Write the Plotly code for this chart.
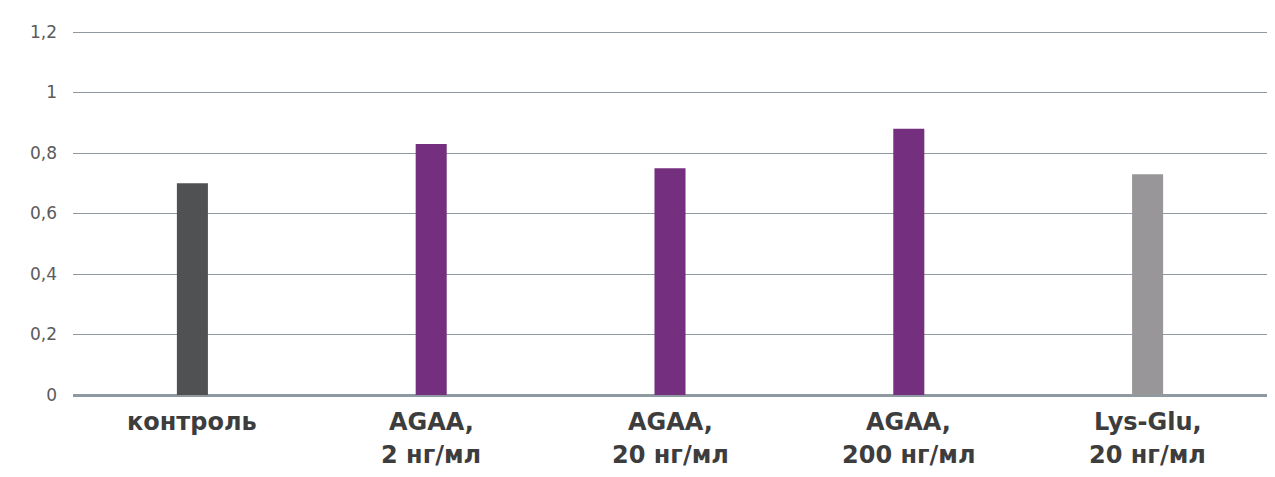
import plotly.graph_objects as go

categories = ["контроль", "AGAA 2", "AGAA 20", "AGAA 200", "Lys-Glu 20"]
label_line1 = ["контроль", "AGAA,", "AGAA,", "AGAA,", "Lys-Glu,"]
label_line2 = ["", "2 нг/мл", "20 нг/мл", "200 нг/мл", "20 нг/мл"]
values = [0.70, 0.83, 0.75, 0.88, 0.73]
colors = ["#505153", "#74307e", "#74307e", "#74307e", "#989699"]
tick_vals = [0, 0.2, 0.4, 0.6, 0.8, 1.0, 1.2]
tick_text = ["0", "0,2", "0,4", "0,6", "0,8", "1", "1,2"]

fig = go.Figure(go.Bar(x=categories, y=values, marker=dict(color=colors, line=dict(width=0)),
                       width=0.13))

lab_font = dict(size=24, color="#3d3d3d", family="DejaVu Sans, sans-serif")
for c, l1, l2 in zip(categories, label_line1, label_line2):
    fig.add_annotation(x=c, y=0, yref="y", text=f"<b>{l1}</b>", showarrow=False,
                       yanchor="middle", yshift=-27, font=lab_font)
    if l2:
        fig.add_annotation(x=c, y=0, yref="y", text=f"<b>{l2}</b>", showarrow=False,
                           yanchor="middle", yshift=-60, font=lab_font)

# page body has an 8px margin, so the figure is sized to fit the window without scrollbars
fig.update_layout(
    width=1259, height=461,
    margin=dict(l=65, r=0, t=21, b=74),
    plot_bgcolor="white", paper_bgcolor="white",
    showlegend=False,
    font=dict(family="DejaVu Sans, sans-serif"),
)
fig.update_yaxes(range=[0, 1.21], tickvals=tick_vals, ticktext=tick_text,
                 showgrid=True, gridcolor="#8f99a1", gridwidth=1.2,
                 zeroline=True, zerolinecolor="#8f99a1", zerolinewidth=2.5,
                 ticklabelstandoff=15, automargin=False,
                 tickfont=dict(size=17, color="#5a5b5d", family="DejaVu Sans, sans-serif"),
                 showline=False)
fig.update_xaxes(showticklabels=False, showline=False, automargin=False)

fig.write_html("out.html")
